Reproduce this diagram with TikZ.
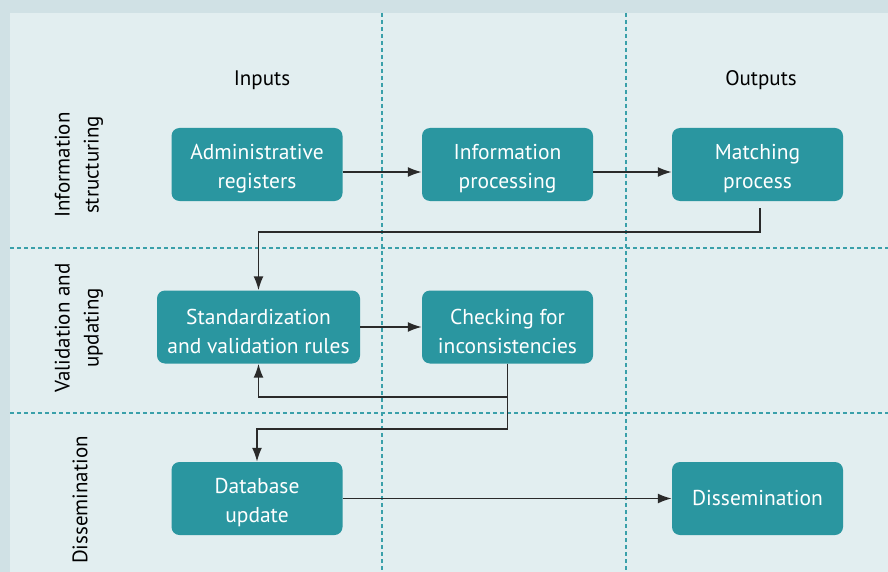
\documentclass[tikz,border=0pt]{standalone}
\usepackage{fontspec}
\setmainfont{PT Sans}
\usetikzlibrary{arrows.meta}
\definecolor{outerbg}{HTML}{D0E1E5}
\definecolor{innerbg}{HTML}{E2EEF0}
\definecolor{boxfill}{HTML}{2A96A0}
\definecolor{dashc}{HTML}{3AA0AA}
\definecolor{linec}{HTML}{2A2A2A}
\tikzset{
  procbox/.style={fill=boxfill, draw=none, rounded corners=8pt, minimum width=171pt, minimum height=73pt, inner sep=0pt},
  boxtxt/.style={text=white, align=center, font=\fontsize{21.5}{29}\selectfont, inner sep=0pt, yshift=-4pt},
  lbl/.style={text=black, align=center, font=\fontsize{21}{29}\selectfont, inner sep=0pt},
  sep/.style={dashc, line width=1.2pt, dash pattern=on 4pt off 3pt},
  arr/.style={linec, line width=1.8pt, -{Latex[length=14pt,width=10pt]}},
}
\begin{document}
\begin{tikzpicture}[x=1pt,y=-1pt]
\fill[outerbg] (0,0) rectangle (888,572);
\fill[innerbg] (10,13) rectangle (888,572);
\useasboundingbox (0,0) rectangle (888,572);
% separators
\draw[sep] (382,13) -- (382,572);
\draw[sep] (626,13) -- (626,572);
\draw[sep] (10,248) -- (888,248);
\draw[sep] (10,413) -- (888,413);
% headers
\node[lbl] (inp) at (262,80) {Inputs};
\node[lbl] (outp) at (761,80) {Outputs};
\node[lbl, rotate=90] (r1) at (79,165) {Information\\structuring};
\node[lbl, rotate=90] (r2) at (79,328) {Validation and\\updating};
\node[lbl, rotate=90] (r3) at (80,500) {Dissemination};
% boxes
\node[procbox, label={[boxtxt]center:{Administrative\\registers}}] (adm) at (257,164.5) {};
\node[procbox, label={[boxtxt]center:{Information\\processing}}] (inf) at (507.5,164.5) {};
\node[procbox, label={[boxtxt]center:{Matching\\process}}] (mat) at (757.5,164.5) {};
\node[procbox, minimum width=203pt, label={[boxtxt]center:{Standardization\\and validation rules}}] (std) at (258.5,327) {};
\node[procbox, label={[boxtxt]center:{Checking for\\inconsistencies}}] (chk) at (507.5,327) {};
\node[procbox, label={[boxtxt]center:{Database\\update}}] (db) at (257,498.5) {};
\node[procbox, label={[boxtxt, yshift=4pt]center:{Dissemination}}] (dis) at (757.5,498.5) {};
% connectors
\draw[arr] ([yshift=-7.5pt]adm.east) -- ([yshift=-7.5pt]inf.west);
\draw[arr] ([yshift=-7.5pt]inf.east) -- ([yshift=-7.5pt]mat.west);
\coordinate (mdrop) at ([xshift=2.5pt,yshift=-7pt]mat.south);
\draw[arr] (mdrop) -- ++(0,24) -| (std.north);
\draw[arr] (std.east) -- (chk.west);
\draw[arr] (chk.south) -- ++(0,33) -| (std.south);
\draw[arr] (chk.south) -- ++(0,65) -| (db.north);
\draw[arr] (db.east) -- (dis.west);
\end{tikzpicture}
\end{document}
